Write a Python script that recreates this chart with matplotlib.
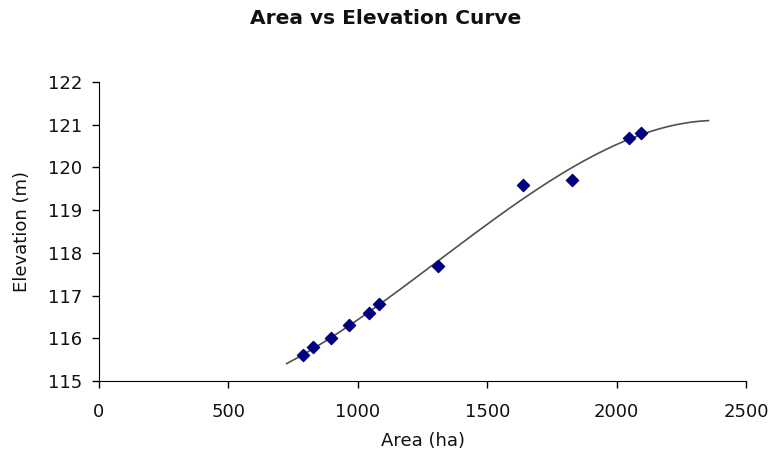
import numpy as np
import matplotlib
matplotlib.use('Agg')
import matplotlib.pyplot as plt

# observed points
area = [787, 828, 896, 965, 1044, 1082, 1311, 1640, 1829, 2049, 2094]
elevation = [115.6, 115.8, 116.0, 116.3, 116.6, 116.8, 117.7, 119.6, 119.7, 120.7, 120.8]

# trendline range (with backward / forward forecast)
trend_start, trend_end = 725, 2355

x_ticks = [0, 500, 1000, 1500, 2000, 2500]
y_ticks = [115, 116, 117, 118, 119, 120, 121, 122]

plt.rcParams['font.family'] = ['DejaVu Sans']

fig = plt.figure(figsize=(7.71, 4.65), dpi=100)
ax = fig.add_axes([0.1284, 0.1806, 0.8392, 0.6431])

# 3rd order polynomial trendline
coef = np.polyfit(area, elevation, 3)
xs = np.linspace(trend_start, trend_end, 200)
ax.plot(xs, np.polyval(coef, xs), color='#505050', lw=1.2, zorder=2)

ax.scatter(area, elevation, marker='D', s=38, color='#000080', zorder=3)

ax.set_xlim(0, 2500)
ax.set_ylim(115, 122)
ax.set_xticks(x_ticks)
ax.set_yticks(y_ticks)
ax.tick_params(labelsize=13, direction='out', length=5, width=1, color='black',
               labelcolor='#111111')
ax.tick_params(axis='x', pad=11)
ax.tick_params(axis='y', pad=7)

ax.spines['top'].set_visible(False)
ax.spines['right'].set_visible(False)

ax.set_xlabel('Area (ha)', fontsize=13, labelpad=8, color='#111111')
ax.set_ylabel('Elevation (m)', fontsize=13, labelpad=12, color='#111111')
fig.text(0.5, 1 - 24 / 465, 'Area vs Elevation Curve', fontsize=14.5,
         fontweight='bold', ha='center', va='baseline', color='#111111')

fig.savefig('out.png', dpi=100)
